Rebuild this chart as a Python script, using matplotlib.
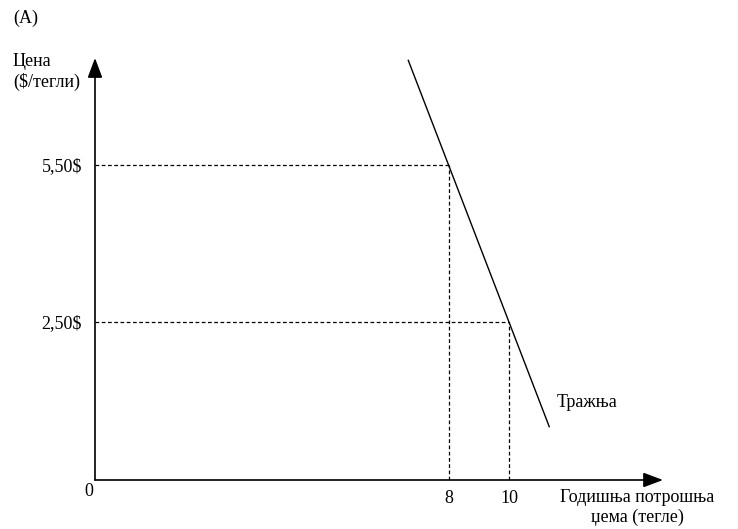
import matplotlib
matplotlib.use("Agg")
import numpy as np
import matplotlib.pyplot as plt

plt.rcParams['font.family'] = ['Liberation Serif', 'DejaVu Serif']

# Тражња: две тачке на кривој и крајеви праве
quantity_pts = [8, 10]
price_pts = [5.5, 2.5]
price_labels = [r"5,50\$", r"2,50\$"]
qty_labels = ["8", "10"]
demand_q = [6.67, 11.33]
demand_p = [7.5, 0.5]

FS = 13

fig = plt.figure(figsize=(7.38, 5.29), dpi=100)
ax = fig.add_axes([95 / 738, 1 - 480 / 529, (663 - 95) / 738, (480 - 58) / 529])
ax.set_xlim(-3.686, 15.09)
ax.set_ylim(-0.519, 7.545)

for s in ax.spines.values():
    s.set_visible(False)

# оси са стрелицама
arrow = dict(arrowstyle='-|>,head_length=1.2,head_width=0.45', color='black',
             lw=1.2, shrinkA=0, shrinkB=0, mutation_scale=10)
ax.annotate('', xy=(1, 0), xytext=(0, 0), xycoords='axes fraction', arrowprops=arrow)
ax.annotate('', xy=(0, 1), xytext=(0, 0), xycoords='axes fraction', arrowprops=arrow)

# крива тражње
ax.plot(demand_q, demand_p, color='black', lw=1.0)

# испрекидане линије
xmin, ymin = ax.get_xlim()[0], ax.get_ylim()[0]
for q, p in zip(quantity_pts, price_pts):
    ax.plot([xmin, q], [p, p], color='black', lw=0.9, ls=(0, (3, 2)))
    ax.plot([q, q], [ymin, p], color='black', lw=0.9, ls=(0, (3, 2)))

ax.set_xticks(quantity_pts)
ax.set_xticklabels(qty_labels)
ax.set_yticks(price_pts)
ax.set_yticklabels(price_labels)
ax.tick_params(axis='x', length=0, pad=7, labelsize=FS)
ax.tick_params(axis='y', length=0, pad=9.5, labelsize=FS)

fig.text(88.5 / 738, 1 - 491 / 529, "0", fontsize=FS, ha='center', va='center')

ax.text(11.58, 0.97, "Тражња", fontsize=FS, ha='left', va='center')

fig.text(13 / 738, 1 - 18 / 529, "(A)", fontsize=FS, ha='left', va='center')
fig.text(13 / 738, 1 - 72 / 529, "Цена\n(\\$/тегли)", fontsize=FS, ha='left',
         va='center', linespacing=1.15)
fig.text(637 / 738, 1 - 507.5 / 529, "Годишња потрошња\nџема (тегле)", fontsize=FS,
         ha='center', va='center', linespacing=1.15)

fig.savefig("out.png", dpi=100)
